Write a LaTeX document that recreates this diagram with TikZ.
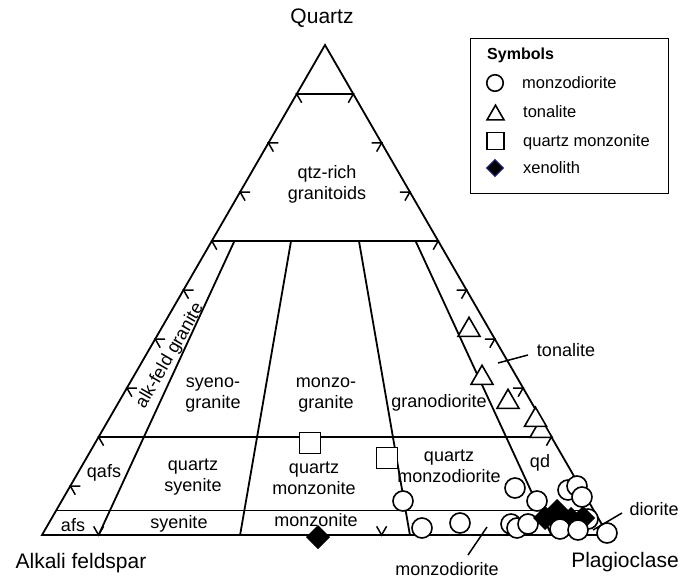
\documentclass[tikz,border=0pt]{standalone}
\usepackage{fontspec}
\setmainfont{Liberation Sans}
\usetikzlibrary{shapes.geometric}
\begin{document}
\begin{tikzpicture}[x=1pt,y=-1pt, line join=miter,
  edge/.style={line width=1.8pt},
  chev/.style={line width=1.5pt},
  lab/.style={font=\fontsize{18}{21}\selectfont, align=center, inner sep=0pt},
  big/.style={font=\fontsize{21}{25}\selectfont, inner sep=0pt},
  leg/.style={font=\fontsize{16.5}{20}\selectfont, anchor=west, inner sep=0pt},
  circ/.style={circle, draw, fill=white, line width=1.6pt, minimum size=20pt, inner sep=0pt},
  sq/.style={rectangle, draw, fill=white, line width=1.6pt, minimum size=21pt, inner sep=0pt},
  tri/.style={regular polygon, regular polygon sides=3, draw, fill=white, line width=1.6pt, minimum size=25.4pt, inner sep=0pt},
  dia/.style={diamond, draw, fill=black, line width=1pt, minimum width=23pt, minimum height=23pt, inner sep=0pt},
]
\useasboundingbox (0,0) rectangle (684,580);
% corners
\coordinate (A) at (42,535);
\coordinate (P) at (608,535);
\coordinate (Q) at (325,45);
% horizontal lines
\coordinate (h90l) at (296.7,94);  \coordinate (h90r) at (353.3,94);
\coordinate (h60l) at (211.8,241); \coordinate (h60r) at (438.2,241);
\coordinate (h20l) at (98.6,437);  \coordinate (h20r) at (551.4,437);
\coordinate (h05l) at (56.15,510.5); \coordinate (h05r) at (593.85,510.5);
% ratio lines
\coordinate (r10t) at (234.44,241); \coordinate (r10b) at (98.6,535);
\coordinate (r35t) at (291.04,241); \coordinate (r35b) at (240.1,535);
\coordinate (r65t) at (358.96,241); \coordinate (r65b) at (409.9,535);
\coordinate (r90t) at (415.56,241); \coordinate (r90b) at (551.4,535);

\draw[edge] (A) -- (P) -- (Q) -- cycle;
\draw[edge] (h90l) -- (h90r);
\draw[edge] (h60l) -- (h60r);
\draw[edge] (h20l) -- (h20r);
\draw[edge] (h05l) -- (h05r);
\draw[edge] (r10t) -- (r10b);
\draw[edge] (r35t) -- (r35b);
\draw[edge] (r65t) -- (r65b);
\draw[edge] (r90t) -- (r90b);

% chevrons on left and right edges
\foreach \k in {1,...,9}{
  \draw[chev] ({42+28.3*\k+10},{535-49*\k}) -- ({42+28.3*\k},{535-49*\k}) -- ++(5,8.66);
  \draw[chev] ({608-28.3*\k-10},{535-49*\k}) -- ({608-28.3*\k},{535-49*\k}) -- ++(-5,8.66);
}
% chevrons on bottom edge
\foreach \xx in {98.6,381.6}{
  \draw[chev] ({\xx-5},526.34) -- (\xx,535) -- ({\xx+5},526.34);
}

% labels
\node[big] (quartz) at (322,18) {Quartz};
\node[big] (alkali) at (81,563) {Alkali feldspar};
\node[big] (plag) at (625,562) {Plagioclase};
\node[lab] (qtzrich) at (327,184) {qtz-rich\\granitoids};
\node[lab, rotate=60] (alkfeld) at (170,356) {alk-feld granite};
\node[lab] (syenogr) at (213,395) {syeno-\\granite};
\node[lab] (monzogr) at (326,395) {monzo-\\granite};
\node[lab] (granod) at (439,403) {granodiorite};
\node[lab] (qafs) at (104,473) {qafs};
\node[lab] (qsyen) at (193,477) {quartz\\syenite};
\node[lab] (qmonz) at (314,478) {quartz\\monzonite};
\node[lab] (qmonzd) at (449,466) {quartz\\monzodiorite};
\node[lab] (qd) at (540,463) {qd};
\node[lab] (afs) at (73,525) {afs};
\node[lab] (syen) at (179,524) {syenite};
\node[lab] (monz) at (316,520) {monzonite};
\node[lab] (tonl) at (566,350) {tonalite};
\node[lab] (dior) at (654,509) {diorite};
\node[lab] (monzd) at (447,569) {monzodiorite};

% leader lines
\coordinate (tonA) at (498,363); \coordinate (tonB) at (528,355);
\coordinate (monA) at (468,555); \coordinate (monB) at (487,527);
\coordinate (dioA) at (593,530); \coordinate (dioB) at (622,513);
\draw[chev] (tonA) -- (tonB);
\draw[chev] (monA) -- (monB);

% triangles (tonalite)
\node[tri] (t1) at (469,330) {};
\node[tri] (t2) at (482,378) {};
\node[tri] (t3) at (508,402) {};
\node[tri] (t5) at (541,431) {};
\node[tri] (t4) at (535.5,420) {};

% squares
\node[sq] (s1) at (310,443) {};
\node[sq] (s2) at (387,458) {};

% circles
\node[circ] (c1) at (403,501) {};
\node[circ] (c2) at (422,528) {};
\node[circ] (c3) at (460,523) {};
\node[circ] (c4) at (515,488) {};
\node[circ] (c5) at (537,501) {};
\node[circ] (c6) at (568,490) {};
\node[circ] (c7) at (577,486) {};
\node[circ] (c8) at (582,497) {};
\node[circ] (c9) at (511,524) {};
\node[circ] (c10) at (517,528) {};
\node[circ] (c11) at (528,524) {};
\node[circ] (c14) at (588,519) {};
\node[circ] (c15) at (607,533) {};

% diamonds (xenolith)
\node[dia] (d1) at (318,537) {};
\node[dia] (d2) at (545,518) {};
\node[dia] (d3) at (557,511) {};
\node[dia] (d4) at (571,519) {};
\node[dia] (d5) at (583,518) {};
\node[circ] (c12) at (560,529) {};
\node[circ] (c13) at (578,530) {};
\draw[chev] (dioA) -- (dioB);

% legend
\node[draw, line width=1.4pt, minimum width=198pt, minimum height=155pt, inner sep=0pt, anchor=north west] (legbox) at (470,38) {};
\node[font=\fontsize{16}{19}\selectfont\bfseries, anchor=west, inner sep=0pt] (legtitle) at (487,55) {Symbols};
\node[circ, minimum size=16.5pt] (lc) at (495,83) {};
\node[tri, minimum size=19.6pt] (lt) at (495.5,115) {};
\node[sq, minimum size=17pt] (ls) at (495.5,141) {};
\node[dia, draw={rgb,255:red,30;green,30;blue,110}, line width=1.2pt, minimum width=17pt, minimum height=17pt] (ld) at (495,168) {};
\node[leg] (lct) at (522,83) {monzodiorite};
\node[leg] (ltt) at (523,112) {tonalite};
\node[leg] (lst) at (523,142) {quartz monzonite};
\node[leg] (ldt) at (523,168) {xenolith};
\end{tikzpicture}
\end{document}
